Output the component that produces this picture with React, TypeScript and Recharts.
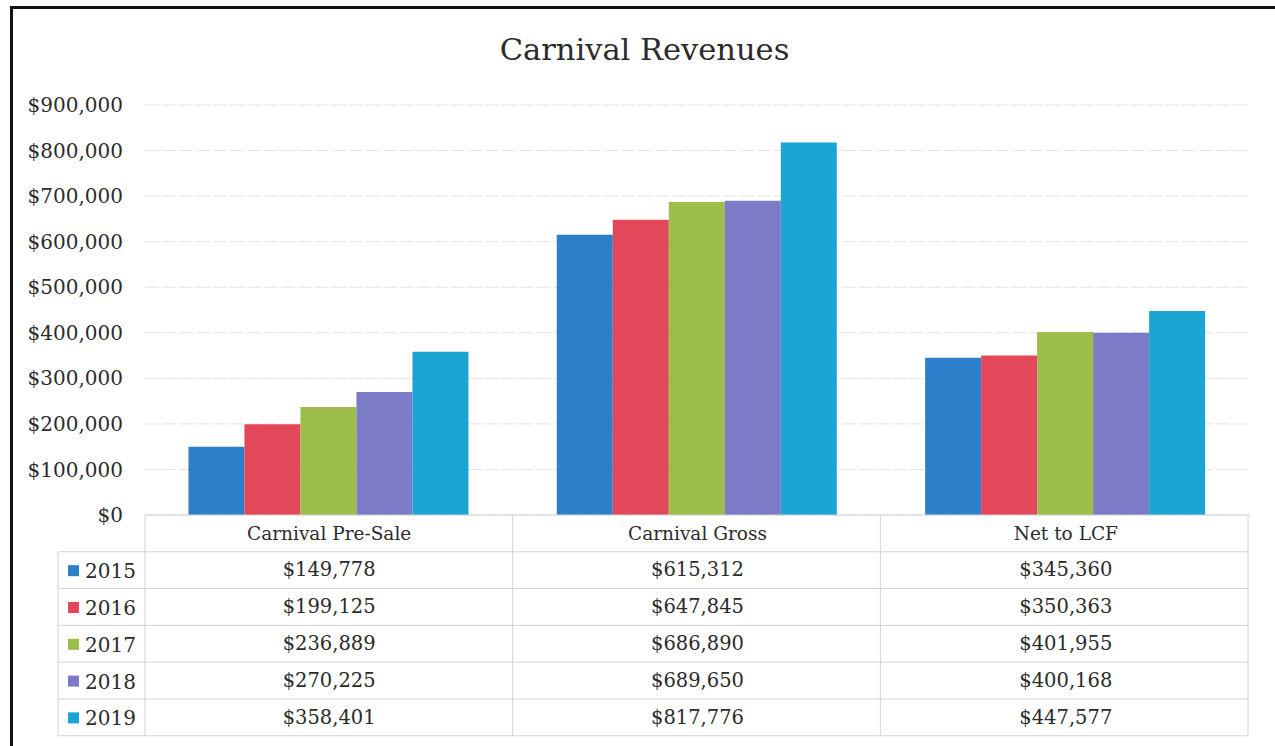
import React from 'react';
import { BarChart, Bar, XAxis, YAxis, CartesianGrid } from 'recharts';

const categories = ['Carnival Pre-Sale', 'Carnival Gross', 'Net to LCF'];
const years = ['2015', '2016', '2017', '2018', '2019'];
const v2015 = [149778, 615312, 345360];
const v2016 = [199125, 647845, 350363];
const v2017 = [236889, 686890, 401955];
const v2018 = [270225, 689650, 400168];
const v2019 = [358401, 817776, 447577];
const yTicks = [0, 100000, 200000, 300000, 400000, 500000, 600000, 700000, 800000, 900000];

const series = [v2015, v2016, v2017, v2018, v2019];
const colors = ['#2C7FC8', '#E2475A', '#9DBE4A', '#7B7BC8', '#1BA5D4'];

const data = categories.map((name, i) => {
  const row: Record<string, string | number> = { name };
  years.forEach((y, j) => {
    row[y] = series[j][i];
  });
  return row;
});

const W = 1275;
const H = 746;
const PLOT_LEFT = 145;
const PLOT_RIGHT = 1250;
const PLOT_TOP = 105;
const PLOT_BOTTOM = 515;
const ROW_H = 36.8;
const FONT = '"DejaVu Serif", serif';
const TEXT = '#2b2b2b';
const LINE = '#d2d2d2';

const money = (v: number) => '$' + v.toLocaleString('en-US');

function TableTick(props: any) {
  const { x, y, payload } = props;
  const idx = categories.indexOf(payload.value);
  return (
    <g>
      <text x={x} y={y + 18} textAnchor="middle" dominantBaseline="central" fontSize={18.5} fill={TEXT} fontFamily={FONT}>
        {payload.value}
      </text>
      {series.map((s, j) => (
        <text
          key={j}
          x={x}
          y={y + 18 + ROW_H * (j + 1)}
          textAnchor="middle"
          dominantBaseline="central"
          fontSize={19.5}
          fill={TEXT}
          fontFamily={FONT}
        >
          {money(s[idx])}
        </text>
      ))}
    </g>
  );
}

function TableGrid() {
  const band = (PLOT_RIGHT - 2 - PLOT_LEFT) / categories.length;
  const top = PLOT_BOTTOM;
  const rowTop = top + ROW_H;
  const bottom = top + ROW_H * (years.length + 1);
  return (
    <svg width={W} height={H} style={{ position: 'absolute', left: 0, top: 0, pointerEvents: 'none' }}>
      {categories.map((_, i) => (
        <line key={i} x1={PLOT_LEFT + band * i} x2={PLOT_LEFT + band * i} y1={top} y2={bottom} stroke={LINE} />
      ))}
      <line x1={PLOT_RIGHT - 2} x2={PLOT_RIGHT - 2} y1={top} y2={bottom} stroke={LINE} />
      <line x1={58} x2={58} y1={rowTop} y2={bottom} stroke={LINE} />
      {years.map((_, j) => (
        <line key={j} x1={58} x2={PLOT_RIGHT - 2} y1={rowTop + ROW_H * j} y2={rowTop + ROW_H * j} stroke={LINE} />
      ))}
      <line x1={58} x2={PLOT_RIGHT - 2} y1={bottom} y2={bottom} stroke={LINE} />
      {years.map((yr, j) => (
        <g key={yr}>
          <rect x={68} y={rowTop + ROW_H * j + ROW_H / 2 - 5} width={11} height={11} fill={colors[j]} />
          <text x={85} y={rowTop + ROW_H * j + ROW_H / 2 + 1} dominantBaseline="central" fontSize={20} fill={TEXT} fontFamily={FONT}>
            {yr}
          </text>
        </g>
      ))}
    </svg>
  );
}

export default function App() {
  return (
    <div style={{ position: 'absolute', left: 0, top: 0, width: W, height: H, background: '#fff', fontFamily: FONT }}>
      <div style={{ position: 'absolute', left: 10, top: 6, right: 0, bottom: 0, borderTop: '3px solid #111', borderLeft: '3px solid #111' }} />
      <div style={{ position: 'absolute', left: 0, width: W, top: 32, textAlign: 'center', fontSize: 30.5, color: TEXT, paddingLeft: 14, boxSizing: 'border-box' }}>
        Carnival Revenues
      </div>
      <BarChart
        width={W}
        height={H}
        data={data}
        margin={{ top: PLOT_TOP, right: W - PLOT_RIGHT, bottom: 0, left: 0 }}
        barCategoryGap="11.8%"
        barGap={0}
        style={{ position: 'absolute', left: 0, top: 0 }}
      >
        <CartesianGrid vertical={false} stroke="#e2e2e2" strokeDasharray="14 3" />
        <YAxis
          width={PLOT_LEFT}
          domain={[0, 900000]}
          ticks={yTicks}
          tickFormatter={(v: number) => money(v)}
          axisLine={false}
          tickLine={false}
          tickSize={0}
          tickMargin={22}
          tick={{ fontSize: 20, fill: TEXT, fontFamily: FONT }}
        />
        <XAxis
          dataKey="name"
          height={H - PLOT_BOTTOM}
          axisLine={{ stroke: LINE }}
          tickLine={false}
          tickSize={0}
          tickMargin={0}
          tick={<TableTick />}
          interval={0}
        />
        {years.map((yr, j) => (
          <Bar key={yr} dataKey={yr} fill={colors[j]} isAnimationActive={false} />
        ))}
      </BarChart>
      <TableGrid />
    </div>
  );
}
